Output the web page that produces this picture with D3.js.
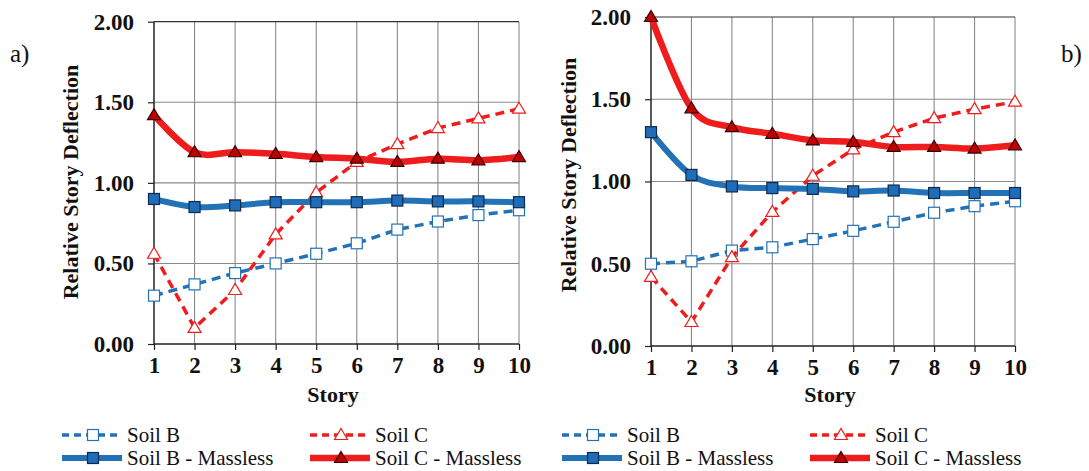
<!DOCTYPE html>
<html>
<head>
<meta charset="utf-8">
<script src="https://cdn.jsdelivr.net/npm/d3@7"></script>
<style>
  body { margin: 0; background: #fff; }
  svg text { font-family: "Liberation Serif", "DejaVu Serif", "Times New Roman", serif; }
</style>
</head>
<body>
<div id="chart"></div>
<script>
var stories = [1, 2, 3, 4, 5, 6, 7, 8, 9, 10];
var yTicks = [0, 0.5, 1, 1.5, 2];
var seriesNames = ["Soil B", "Soil C", "Soil B - Massless", "Soil C - Massless"];

// panel a)
var soilB_a = [0.30, 0.37, 0.44, 0.50, 0.56, 0.625, 0.71, 0.76, 0.80, 0.83];
var soilC_a = [0.56, 0.10, 0.335, 0.68, 0.94, 1.13, 1.24, 1.34, 1.40, 1.46];
var soilBMassless_a = [0.90, 0.85, 0.86, 0.88, 0.88, 0.88, 0.89, 0.885, 0.885, 0.88];
var soilCMassless_a = [1.42, 1.19, 1.19, 1.18, 1.16, 1.15, 1.13, 1.15, 1.14, 1.16];

// panel b)
var soilB_b = [0.50, 0.515, 0.58, 0.60, 0.65, 0.70, 0.755, 0.81, 0.85, 0.88];
var soilC_b = [0.42, 0.146, 0.54, 0.815, 1.035, 1.195, 1.30, 1.385, 1.44, 1.485];
var soilBMassless_b = [1.30, 1.04, 0.97, 0.96, 0.955, 0.94, 0.945, 0.93, 0.93, 0.93];
var soilCMassless_b = [2.00, 1.445, 1.33, 1.29, 1.25, 1.24, 1.21, 1.21, 1.20, 1.22];

var BLUE = '#2372b6';
var RED = '#ee1c1c';
var FONT = '"Liberation Serif", "DejaVu Serif", serif';

function GetStyle(i) {
    switch(i) {
        case 0: return { color: BLUE, width: 3.5, dash: '9,6', shape: 'square', fill: '#fff', stroke: BLUE, smooth: false };
        case 1: return { color: RED, width: 3.5, dash: '9,6', shape: 'triangle', fill: '#fff', stroke: RED, smooth: false };
        case 2: return { color: BLUE, width: 6, dash: null, shape: 'square', fill: '#1f6cb8', stroke: '#0d2b4d', smooth: true };
        case 3: return { color: RED, width: 6.5, dash: null, shape: 'triangle', fill: '#c00000', stroke: '#3a0000', smooth: true };
    }
}

function DrawMarker(g, st, cx, cy) {
    if (st.shape == 'square') {
        g.append('rect').attr('x', cx - 5.5).attr('y', cy - 5.5).attr('width', 11).attr('height', 11)
            .style('fill', st.fill).style('stroke', st.stroke).style('stroke-width', 1.2);
    }
    else {
        g.append('path').attr('d', 'M' + cx + ',' + (cy - 6.5) + 'L' + (cx + 6.5) + ',' + (cy + 4.5) + 'L' + (cx - 6.5) + ',' + (cy + 4.5) + 'Z')
            .style('fill', st.fill).style('stroke', st.stroke).style('stroke-width', 1.2);
    }
}

function DrawPanel(svg, p) {
    var x = d3.scaleLinear().domain([1, 10]).range([p.x0, p.x1]);
    var y = d3.scaleLinear().domain([0, 2]).range([p.yBot, p.yTop]);
    var g = svg.append('g');

    // grid
    g.selectAll('.vgrid').data(stories.slice(1)).enter().append('line')
        .attr('x1', function(d) { return x(d); }).attr('x2', function(d) { return x(d); })
        .attr('y1', y(2)).attr('y2', y(0))
        .style('stroke', '#8a8a8a').style('stroke-width', 1.1);
    g.selectAll('.hgrid').data([0.5, 1, 1.5]).enter().append('line')
        .attr('x1', x(1)).attr('x2', x(10))
        .attr('y1', function(d) { return y(d); }).attr('y2', function(d) { return y(d); })
        .style('stroke', '#8a8a8a').style('stroke-width', 1.1);
    g.append('line').attr('x1', x(1)).attr('x2', x(10)).attr('y1', y(2)).attr('y2', y(2))
        .style('stroke', '#333').style('stroke-width', 1.2);

    // axes
    var xAxis = d3.axisBottom(x).tickValues(stories).tickSize(6).tickFormat(d3.format('d'));
    var yAxis = d3.axisLeft(y).tickValues(yTicks).tickSize(6).tickFormat(d3.format('.2f'));
    var gx = g.append('g').attr('transform', 'translate(0,' + y(0) + ')').call(xAxis);
    var gy = g.append('g').attr('transform', 'translate(' + x(1) + ',0)').call(yAxis);
    gx.attr('font-family', null); gy.attr('font-family', null);
    gx.select('.domain').attr('d', 'M' + x(1) + ',0H' + x(10)).style('stroke', '#222').style('stroke-width', 1.5);
    gy.select('.domain').attr('d', 'M0,' + y(0) + 'V' + y(2)).style('stroke', '#222').style('stroke-width', 1.5);
    gx.selectAll('.tick line').style('stroke', '#222').style('stroke-width', 1.2);
    gy.selectAll('.tick line').style('stroke', '#222').style('stroke-width', 1.2);
    gx.selectAll('text').attr('y', 13).attr('dy', '0.71em')
        .style('font-family', FONT).style('font-size', '23px').style('font-weight', 'bold').style('fill', '#111');
    gy.selectAll('text').attr('x', -20)
        .style('font-family', FONT).style('font-size', '23px').style('font-weight', 'bold').style('fill', '#111');

    // titles
    g.append('text').attr('transform', 'translate(' + p.yLabelX + ',' + p.yLabelY + ') rotate(-90)')
        .attr('text-anchor', 'middle').attr('dy', '0.35em')
        .style('font-family', FONT).style('font-size', '22px').style('font-weight', 'bold').style('fill', '#111')
        .text('Relative Story Deflection');
    g.append('text').attr('x', p.storyX).attr('y', 402).attr('text-anchor', 'middle')
        .style('font-family', FONT).style('font-size', '22px').style('font-weight', 'bold').style('fill', '#111')
        .text('Story');
    g.append('text').attr('x', p.tagX).attr('y', 62)
        .style('font-family', FONT).style('font-size', '25px').style('fill', '#111')
        .text(p.tag);

    // series
    p.series.forEach(function(vals, i) {
        var st = GetStyle(i);
        var line = d3.line()
            .x(function(d, j) { return x(stories[j]); })
            .y(function(d) { return y(d); })
            .curve(st.smooth ? d3.curveCardinal.tension(0) : d3.curveLinear);
        var sg = g.append('g');
        sg.append('path').datum(vals).attr('d', line)
            .style('fill', 'none').style('stroke', st.color).style('stroke-width', st.width)
            .style('stroke-dasharray', st.dash).style('stroke-linejoin', 'round');
        vals.forEach(function(v, j) {
            DrawMarker(sg, st, x(stories[j]), y(v));
        });
    });

    // legend
    var rows = [[0, 1], [2, 3]];
    var ly = [435, 458];
    rows.forEach(function(row, r) {
        row.forEach(function(si, c) {
            var st = GetStyle(si);
            var lx = p.legendX + c * 248;
            var lg = svg.append('g');
            lg.append('line').attr('x1', lx).attr('x2', lx + 60).attr('y1', ly[r]).attr('y2', ly[r])
                .style('stroke', st.color).style('stroke-width', st.width)
                .style('stroke-dasharray', st.dash ? '7,5' : null);
            DrawMarker(lg, st, lx + 31, ly[r]);
            lg.append('text').attr('x', lx + 65).attr('y', ly[r]).attr('dy', '0.35em')
                .style('font-family', FONT).style('font-size', '21px').style('fill', '#111')
                .text(seriesNames[si]);
        });
    });
}

var svg = d3.select('#chart').append('svg').attr('width', 1089).attr('height', 471);
DrawPanel(svg, {
    x0: 154, x1: 519, yTop: 21.7, yBot: 344,
    yLabelX: 70, yLabelY: 182, storyX: 333, tagX: 10, tag: 'a)', legendX: 62,
    series: [soilB_a, soilC_a, soilBMassless_a, soilCMassless_a]
});
DrawPanel(svg, {
    x0: 651, x1: 1015, yTop: 17, yBot: 346,
    yLabelX: 568, yLabelY: 175, storyX: 830, tagX: 1061, tag: 'b)', legendX: 562,
    series: [soilB_b, soilC_b, soilBMassless_b, soilCMassless_b]
});
</script>
</body>
</html>
